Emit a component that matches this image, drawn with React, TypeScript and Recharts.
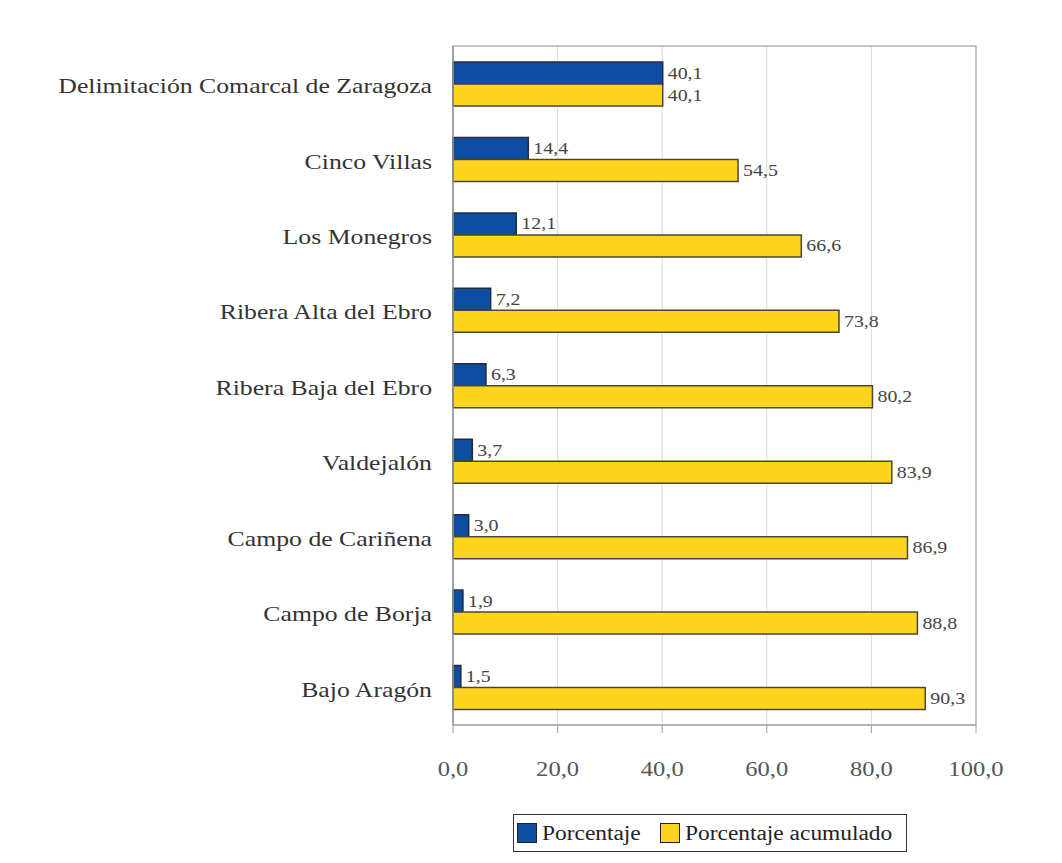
import React from 'react';
import { BarChart, Bar, XAxis, YAxis, CartesianGrid, ReferenceArea, LabelList } from 'recharts';

const comarcas = [
  'Delimitación Comarcal de Zaragoza',
  'Cinco Villas',
  'Los Monegros',
  'Ribera Alta del Ebro',
  'Ribera Baja del Ebro',
  'Valdejalón',
  'Campo de Cariñena',
  'Campo de Borja',
  'Bajo Aragón',
];
const porcentaje = [40.1, 14.4, 12.1, 7.2, 6.3, 3.7, 3.0, 1.9, 1.5];
const acumulado = [40.1, 54.5, 66.6, 73.8, 80.2, 83.9, 86.9, 88.8, 90.3];
const xTicks = [0, 20, 40, 60, 80, 100];
const seriesNames = ['Porcentaje', 'Porcentaje acumulado'];
const seriesColors = ['#0b4ea2', '#ffd41c'];

const data = comarcas.map((name, i) => ({
  name,
  porcentaje: porcentaje[i],
  acumulado: acumulado[i],
}));

const FONT = '"Liberation Serif", "Times New Roman", serif';
// the source image is stretched sideways a little
const STRETCH = 1.17;
const fmt = (v: number) => Number(v).toFixed(1).replace('.', ',');

function CategoryTick(props: any) {
  const { x, y, payload } = props;
  return (
    <g transform={`translate(${x},${y + 2})`}>
      <text
        transform={`scale(${STRETCH},1)`}
        textAnchor="end"
        dominantBaseline="central"
        fontFamily={FONT}
        fontSize={22}
        fill="#333"
      >
        {payload.value}
      </text>
    </g>
  );
}

function ValueTick(props: any) {
  const { x, y, payload } = props;
  return (
    <g transform={`translate(${x},${y})`}>
      <text
        transform={`scale(${STRETCH},1)`}
        textAnchor="middle"
        dy="0.71em"
        fontFamily={FONT}
        fontSize={21}
        fill="#555"
      >
        {fmt(payload.value)}
      </text>
    </g>
  );
}

function ValueLabel(props: any) {
  const { x, y, width, height, value } = props;
  return (
    <g transform={`translate(${Number(x) + Number(width) + 5},${Number(y) + Number(height) / 2})`}>
      <text
        transform={`scale(${STRETCH},1)`}
        dominantBaseline="central"
        fontFamily={FONT}
        fontSize={17}
        fill="#444"
      >
        {fmt(value)}
      </text>
    </g>
  );
}

function LegendBox() {
  const item = (left: number, i: number) => (
    <React.Fragment key={i}>
      <div
        style={{
          position: 'absolute',
          left,
          top: 8,
          width: 20,
          height: 20,
          background: seriesColors[i],
          border: '1px solid #222',
          boxSizing: 'border-box',
        }}
      />
      <div
        style={{
          position: 'absolute',
          left: left + 25,
          top: 0,
          lineHeight: '36px',
          fontFamily: FONT,
          fontSize: 20,
          color: '#222',
          whiteSpace: 'nowrap',
          transform: `scaleX(${STRETCH})`,
          transformOrigin: 'left center',
        }}
      >
        {seriesNames[i]}
      </div>
    </React.Fragment>
  );
  return (
    <div
      style={{
        position: 'absolute',
        left: 513,
        top: 814,
        width: 394,
        height: 38,
        border: '1px solid #333',
        boxSizing: 'border-box',
        background: '#fff',
      }}
    >
      {item(3, 0)}
      {item(146, 1)}
    </div>
  );
}

export default function App() {
  return (
    <div style={{ position: 'absolute', left: 0, top: 0, width: 1062, height: 863, background: '#fff' }}>
      <BarChart
        width={1062}
        height={863}
        data={data}
        layout="vertical"
        margin={{ top: 46, right: 86, left: 0, bottom: 78 }}
        barGap={0}
        barSize={22}
      >
        <CartesianGrid horizontal={false} stroke="#dadada" />
        <ReferenceArea x1={0} x2={100} fill="none" stroke="#b5b5b5" strokeWidth={1.5} />
        <XAxis
          type="number"
          domain={[0, 100]}
          ticks={xTicks}
          height={60}
          tickSize={8}
          tickMargin={28}
          stroke="#a0a0a0"
          tick={<ValueTick />}
        />
        <YAxis
          type="category"
          dataKey="name"
          width={453}
          tickLine={false}
          tickSize={6}
          tickMargin={15}
          stroke="#9a9a9a"
          strokeWidth={1.5}
          tick={<CategoryTick />}
        />
        <Bar dataKey="porcentaje" name={seriesNames[0]} fill={seriesColors[0]} stroke="#2a2a3a" strokeWidth={1.5} isAnimationActive={false}>
          <LabelList dataKey="porcentaje" content={<ValueLabel />} />
        </Bar>
        <Bar dataKey="acumulado" name={seriesNames[1]} fill={seriesColors[1]} stroke="#4a4636" strokeWidth={1.5} isAnimationActive={false}>
          <LabelList dataKey="acumulado" content={<ValueLabel />} />
        </Bar>
      </BarChart>
      <LegendBox />
    </div>
  );
}
